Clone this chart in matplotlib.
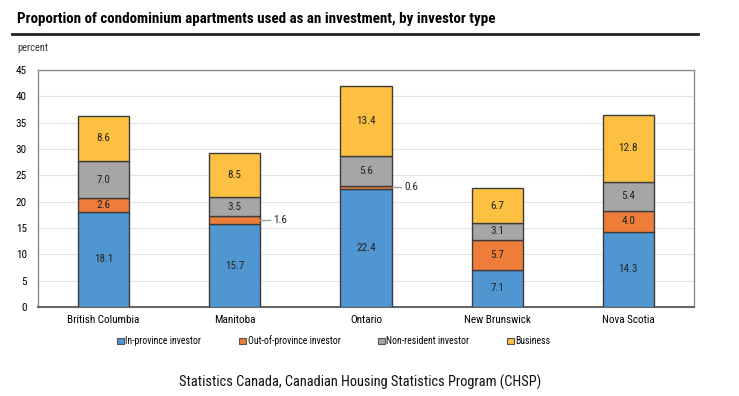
import numpy as np
import matplotlib
matplotlib.use("Agg")
import matplotlib.pyplot as plt
from matplotlib.lines import Line2D
from matplotlib.patches import Patch

plt.rcParams["font.family"] = ["Roboto Condensed", "DejaVu Sans"]

provinces = ["British Columbia", "Manitoba", "Ontario", "New Brunswick", "Nova Scotia"]
series_names = ["In-province investor", "Out-of-province investor",
                "Non-resident investor", "Business"]
in_province = [18.1, 15.7, 22.4, 7.1, 14.3]
out_of_province = [2.6, 1.6, 0.6, 5.7, 4.0]
non_resident = [7.0, 3.5, 5.6, 3.1, 5.4]
business = [8.6, 8.5, 13.4, 6.7, 12.8]
colors = ["#5097D2", "#EE7D3A", "#A6A6A6", "#FDC040"]

fig = plt.figure(figsize=(7.39, 3.96), dpi=100)
W, H = 739, 396
ax = fig.add_axes([38 / W, 1 - 307 / H, (694 - 38) / W, (307 - 70) / H])

x = np.arange(len(provinces))
bottom = np.zeros(len(provinces))
width = 0.39
for vals, name, col in zip([in_province, out_of_province, non_resident, business],
                           series_names, colors):
    vals = np.array(vals)
    ax.bar(x, vals, width, bottom=bottom, color=col, edgecolor="#3c3c3c",
           linewidth=1.0, zorder=3, label=name)
    for i, v in enumerate(vals):
        mid = bottom[i] + v / 2
        if v < 2:
            # small segment: label outside with a leader line
            ax.plot([x[i] + width / 2, x[i] + width / 2 + 0.07], [mid, mid],
                    color="#a0a0a0", lw=1, zorder=3, clip_on=False)
            ax.text(x[i] + width / 2 + 0.1, mid, f"{v:.1f}", va="center",
                    ha="left", fontsize=8, color="#222222")
        else:
            ax.text(x[i], mid, f"{v:.1f}", va="center", ha="center",
                    fontsize=8, color="#222222", zorder=4)
    bottom += vals

ax.set_xlim(-0.5, 4.5)
ax.set_ylim(0, 45)
ax.set_yticks(range(0, 46, 5))
ax.set_xticks(x)
ax.set_xticklabels(provinces, fontsize=8)
ax.tick_params(axis="y", labelsize=8, length=0, pad=8)
ax.tick_params(axis="x", length=0, pad=6)
ax.grid(axis="y", color="#e3e3e3", lw=0.8, zorder=0)
for s in ax.spines.values():
    s.set_color("#8c8c8c")
    s.set_linewidth(1.0)
ax.spines["bottom"].set_color("#666666")
ax.spines["bottom"].set_linewidth(1.5)

handles = [Patch(facecolor=c, edgecolor="#555555", lw=0.8) for c in colors]
fig.legend(handles, series_names, loc="center", bbox_to_anchor=(334 / W, 1 - 341 / H),
           ncol=4, frameon=False, fontsize=7, handlelength=0.65, handleheight=0.65,
           handletextpad=0.2, columnspacing=3.9)

fig.text(17 / W, 1 - 19 / H, "Proportion of condominium apartments used as an investment, by investor type",
         fontsize=10.8, fontweight="bold", va="center", ha="left")
fig.add_artist(Line2D([12 / W, 698 / W], [1 - 34 / H, 1 - 34 / H], color="#222222", lw=2))
fig.text(17 / W, 1 - 48 / H, "percent", fontsize=7.5, va="center", ha="left", color="#333333")
fig.text(360 / W, 1 - 382 / H, "Statistics Canada, Canadian Housing Statistics Program (CHSP)",
         fontsize=10.4, va="center", ha="center", color="#111111")

fig.savefig("out.png", dpi=100)
